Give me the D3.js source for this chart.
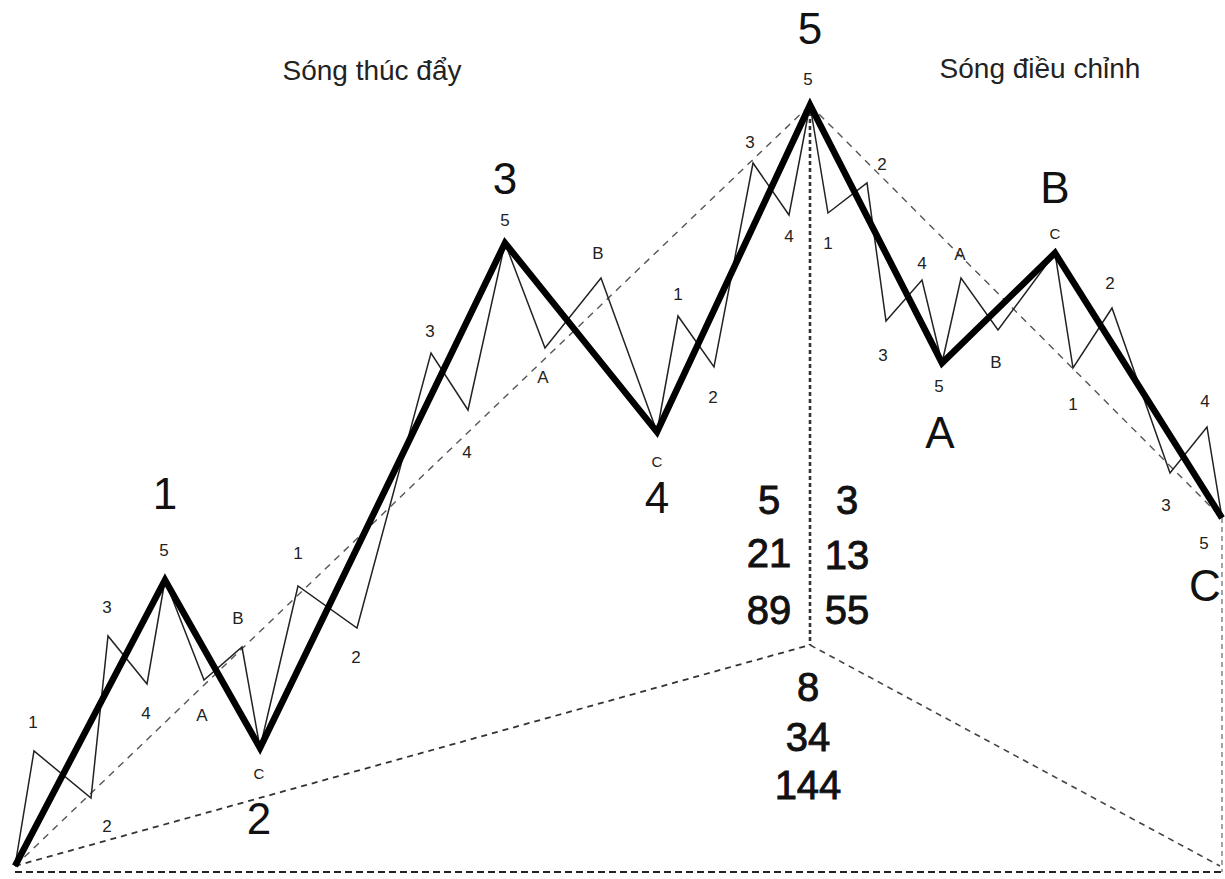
<!DOCTYPE html>
<html>
<head>
<meta charset="utf-8">
<script src="https://cdn.jsdelivr.net/npm/d3@7"></script>
<style>
  html, body { margin: 0; padding: 0; background: #fff; }
  svg { display: block; }
  text { font-family: "Liberation Sans", Arial, sans-serif; fill: #111; }
</style>
</head>
<body>
<svg id="chart" width="1225" height="879"></svg>
<script>
// ---- DATA (t = time units, p = price units) ----
const mainWaveNames = ["0", "1", "2", "3", "4", "5", "A", "B", "C"];
const mainWaveT = [15, 165, 260, 505, 657, 810, 942, 1055, 1222];
const mainWaveP = [13, 299, 131, 636, 447, 774, 516, 626, 361];

// sub-waves: each is a list of [t, p]
const subWave1 = [[15, 13], [34, 128], [91, 81], [108, 243], [147, 195], [165, 299]];
const subWave2 = [[165, 299], [204, 199], [242, 232], [260, 131]];
const subWave3 = [[260, 131], [298, 293], [357, 251], [431, 526], [468, 469], [505, 636]];
const subWave4 = [[505, 636], [545, 531], [601, 601], [657, 447]];
const subWave5 = [[657, 447], [678, 563], [714, 512], [753, 716], [789, 664], [810, 774]];
const subWaveA = [[810, 774], [828, 666], [867, 696], [886, 558], [922, 599], [942, 516]];
const subWaveB = [[942, 516], [961, 601], [998, 549], [1055, 626]];
const subWaveC = [[1055, 626], [1073, 511], [1112, 571], [1170, 406], [1207, 452], [1222, 361]];

// guide lines
const guideOriginToTop = [[15, 13], [810, 774]];
const guideOriginToHub = [[15, 13], [810, 234]];
const guideHubToEnd = [[810, 234], [1220, 13]];
const guideTopToEnd = [[810, 774], [1222, 361]];
const guideVertical = [[810, 774], [810, 234]];
const guideBase = [[15, 7], [1222, 7]];
const guideRight = [[1222, 361], [1222, 7]];

// labels
const bigLabels = ["1", "2", "3", "4", "5", "A", "B", "C"];
const bigLabelT = [165, 259, 505, 657, 810, 940, 1055, 1205];
const bigLabelP = [386, 61, 701, 382, 851, 447, 692, 294];

const smallLabels = ["1","2","3","4","5", "A","B","C", "1","2","3","4","5", "A","B","C",
                     "1","2","3","4","5", "1","2","3","4","5", "A","B","C", "1","2","3","4","5"];
const smallLabelT = [33,107,107,146,164, 202,238,259, 298,356,430,467,505, 543,598,657,
                     678,713,750,789,808, 828,882,883,922,939, 960,996,1055, 1073,1110,1166,1205,1204];
const smallLabelP = [157,53,272,166,329, 164,261,106, 326,222,548,427,659, 502,626,418,
                     585,482,737,643,800, 636,715,524,616,493, 625,517,646, 475,596,374,478,336];

const fibLeft = ["5", "21", "89"];
const fibRight = ["3", "13", "55"];
const fibBottom = ["8", "34", "144"];
const fibLeftP = [379, 326, 269];
const fibRightP = [379, 324, 269];
const fibBottomP = [192, 142, 94];

const titles = ["Sóng thúc đẩy", "Sóng điều chỉnh"];
const titleT = [372, 1040];
const titleP = [809, 811];

// ---- DRAW ----
const W = 1225, H = 879;
const x = d3.scaleLinear().domain([0, 1225]).range([0, W]);
const y = d3.scaleLinear().domain([0, 879]).range([H, 0]);
const svg = d3.select("#chart");
const line = d3.line().x(d => x(d[0])).y(d => y(d[1]));

// guides
function guide(pts, dash, width, color) {
  svg.append("path").attr("d", line(pts)).attr("fill", "none")
    .attr("stroke", color).attr("stroke-width", width).attr("stroke-dasharray", dash);
}
guide(guideBase, "7,4", 2.2, "#222");
guide(guideOriginToHub, "6,5", 1.8, "#333");
guide(guideHubToEnd, "6,5", 1.6, "#444");
guide(guideRight, "5,4", 1.2, "#666");
guide(guideVertical, "4,3", 2.6, "#333");
guide(guideOriginToTop, "7,6", 1.4, "#555");
guide(guideTopToEnd, "7,6", 1.4, "#555");

// sub waves (thin)
[subWave1, subWave2, subWave3, subWave4, subWave5, subWaveA, subWaveB, subWaveC].forEach(w => {
  svg.append("path").attr("d", line(w)).attr("fill", "none")
    .attr("stroke", "#222").attr("stroke-width", 1.5).attr("stroke-linejoin", "miter");
});

// main wave (thick)
const mainPts = mainWaveT.map((t, i) => [t, mainWaveP[i]]);
svg.append("path").attr("d", line(mainPts)).attr("fill", "none")
  .attr("stroke", "#000").attr("stroke-width", 6.5).attr("stroke-linejoin", "miter");

// small labels
svg.selectAll("text.small").data(smallLabels).enter().append("text")
  .attr("class", "small")
  .attr("x", (d, i) => x(smallLabelT[i]))
  .attr("y", (d, i) => y(smallLabelP[i]))
  .attr("text-anchor", "middle").attr("dominant-baseline", "central")
  .attr("font-size", d => d === "C" ? 15 : 17)
  .style("fill", "#222")
  .text(d => d);

// big labels
svg.selectAll("text.big").data(bigLabels).enter().append("text")
  .attr("class", "big")
  .attr("x", (d, i) => x(bigLabelT[i]))
  .attr("y", (d, i) => y(bigLabelP[i]))
  .attr("text-anchor", "middle").attr("dominant-baseline", "central")
  .attr("font-size", 44)
  .text(d => d);

// fibonacci numbers
function fib(arr, ps, t) {
  arr.forEach((s, i) => {
    svg.append("text").attr("x", x(t)).attr("y", y(ps[i]))
      .attr("text-anchor", "middle").attr("dominant-baseline", "central")
      .attr("font-size", 40).style("stroke", "#111").style("stroke-width", 0.9)
      .text(s);
  });
}
fib(fibLeft, fibLeftP, 769);
fib(fibRight, fibRightP, 847);
fib(fibBottom, fibBottomP, 808);

// titles
titles.forEach((s, i) => {
  svg.append("text").attr("x", x(titleT[i])).attr("y", y(titleP[i]))
    .attr("text-anchor", "middle").attr("dominant-baseline", "central")
    .attr("font-size", 28).style("fill", "#222")
    .text(s);
});
</script>
</body>
</html>
